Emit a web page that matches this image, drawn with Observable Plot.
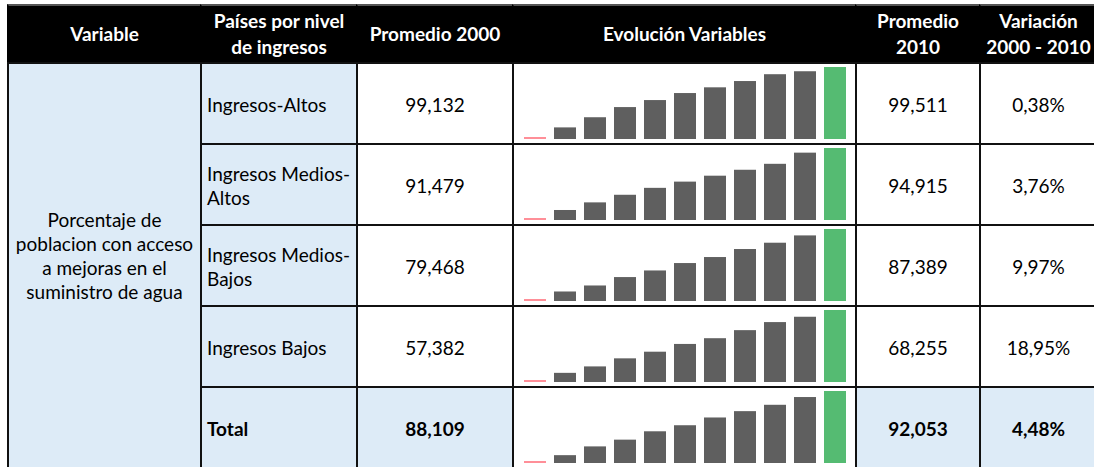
<!DOCTYPE html>
<html>
<head>
<meta charset="utf-8">
<script src="https://cdn.jsdelivr.net/npm/d3@7"></script>
<script src="https://cdn.jsdelivr.net/npm/@observablehq/plot@0.6"></script>
<style>
  html, body { margin: 0; padding: 0; background: #fff; overflow: hidden; }
  #tabla { position: relative; width: 1094px; height: 467px; font-family: Lato, "Open Sans", sans-serif; font-size: 19px; color: #000; }
  .celda { position: absolute; box-sizing: border-box; border: 2px solid #111; display: flex; align-items: center; justify-content: center; text-align: center; line-height: 24px; white-space: pre-line; overflow: hidden; padding-top: 2px; }
  .cab { background: #000; color: #fff; font-weight: bold; border-color: #000; border-top-color: #555; line-height: 26px; padding-top: 0; }
  .azul { background: #ddebf7; }
  .izq { justify-content: flex-start; text-align: left; padding-left: 5px; }
  .neg { font-weight: bold; }
  .var { padding-top: 0; padding-bottom: 19px; }
  .spark { padding-top: 0; }
</style>
</head>
<body>
<div id="tabla"></div>
<script>
// Encabezados y etiquetas de la tabla
const encabezados = ["Variable", "Países por nivel\nde ingresos", "Promedio 2000", "Evolución Variables", "Promedio\n2010", "Variación\n2000 - 2010"];
const variable = "Porcentaje de\npoblacion con acceso\na mejoras en el\nsuministro de agua";
const niveles = ["Ingresos-Altos", "Ingresos Medios-\nAltos", "Ingresos Medios-\nBajos", "Ingresos Bajos", "Total"];
const anios = [2000, 2001, 2002, 2003, 2004, 2005, 2006, 2007, 2008, 2009, 2010];

// Porcentaje de población con acceso a mejoras en el suministro de agua, 2000-2010
const ingresosAltos = [99.132, 99.184, 99.239, 99.294, 99.332, 99.370, 99.401, 99.435, 99.472, 99.488, 99.511];
const ingresosMediosAltos = [91.479, 91.872, 92.246, 92.619, 92.959, 93.265, 93.556, 93.847, 94.139, 94.687, 94.915];
const ingresosMediosBajos = [79.468, 80.318, 80.998, 81.950, 82.698, 83.536, 84.216, 85.123, 85.837, 86.664, 87.389];
const ingresosBajos = [57.382, 58.493, 59.494, 60.746, 61.778, 62.983, 63.874, 65.126, 66.377, 67.207, 68.255];
const total = [88.109, 88.438, 88.932, 89.312, 89.783, 90.124, 90.561, 90.918, 91.276, 91.713, 92.053];

const series = [ingresosAltos, ingresosMediosAltos, ingresosMediosBajos, ingresosBajos, total];

// Formato con coma decimal
const es = d3.formatLocale({decimal: ",", thousands: ".", grouping: [3], currency: ["", " €"]});
const fmtValor = es.format(".3f");
const fmtPct = es.format(".2%");

// Rejilla: bordes de columnas y filas (px)
const colX = [7, 200, 356, 512, 855, 979, 1096];
const filaY = [4, 62, 143, 224, 305, 386, 467];

const tabla = document.getElementById("tabla");

function celda(col, fila, texto, clases, filas = 1) {
  const div = document.createElement("div");
  div.className = "celda " + clases;
  div.style.left = colX[col] + "px";
  div.style.top = filaY[fila] + "px";
  div.style.width = (colX[col + 1] - colX[col] + 2) + "px";
  div.style.height = (filaY[fila + filas] - filaY[fila] + 2) + "px";
  if (texto != null) div.textContent = texto;
  tabla.appendChild(div);
  return div;
}

// Minigráfico de columnas con punto bajo y punto alto marcados
function minigrafico(valores) {
  const min = d3.min(valores), max = d3.max(valores);
  const base = min - (max - min) * 2 / 70;
  const datos = valores.map((v, i) => ({
    anio: anios[i],
    valor: v,
    tipo: v === min ? "bajo" : v === max ? "alto" : "medio"
  }));
  return Plot.plot({
    width: 341,
    height: 79,
    marginLeft: 7,
    marginRight: 6,
    marginTop: 3,
    marginBottom: 4,
    x: {type: "band", domain: anios, paddingInner: 0.28, paddingOuter: 0, axis: null},
    y: {domain: [base, max], axis: null},
    color: {domain: ["bajo", "medio", "alto"], range: ["#ff8f98", "#5f5f5f", "#55bb72"]},
    marks: [
      Plot.barY(datos, {x: "anio", y1: base, y2: "valor", fill: "tipo"})
    ]
  });
}

// Encabezado
encabezados.forEach((t, c) => celda(c, 0, t, "cab"));

// Variable (ocupa todas las filas)
celda(0, 1, variable, "azul var", 5);

series.forEach((valores, r) => {
  const fila = r + 1;
  const esTotal = r === series.length - 1;
  const v0 = valores[0], v1 = valores[valores.length - 1];
  celda(1, fila, niveles[r], "azul izq" + (esTotal ? " neg" : ""));
  celda(2, fila, fmtValor(v0), esTotal ? "azul neg" : "");
  const sp = celda(3, fila, null, "spark");
  sp.appendChild(minigrafico(valores));
  celda(4, fila, fmtValor(v1), esTotal ? "azul neg" : "");
  celda(5, fila, fmtPct((v1 - v0) / v0), esTotal ? "azul neg" : "");
});
</script>
</body>
</html>
